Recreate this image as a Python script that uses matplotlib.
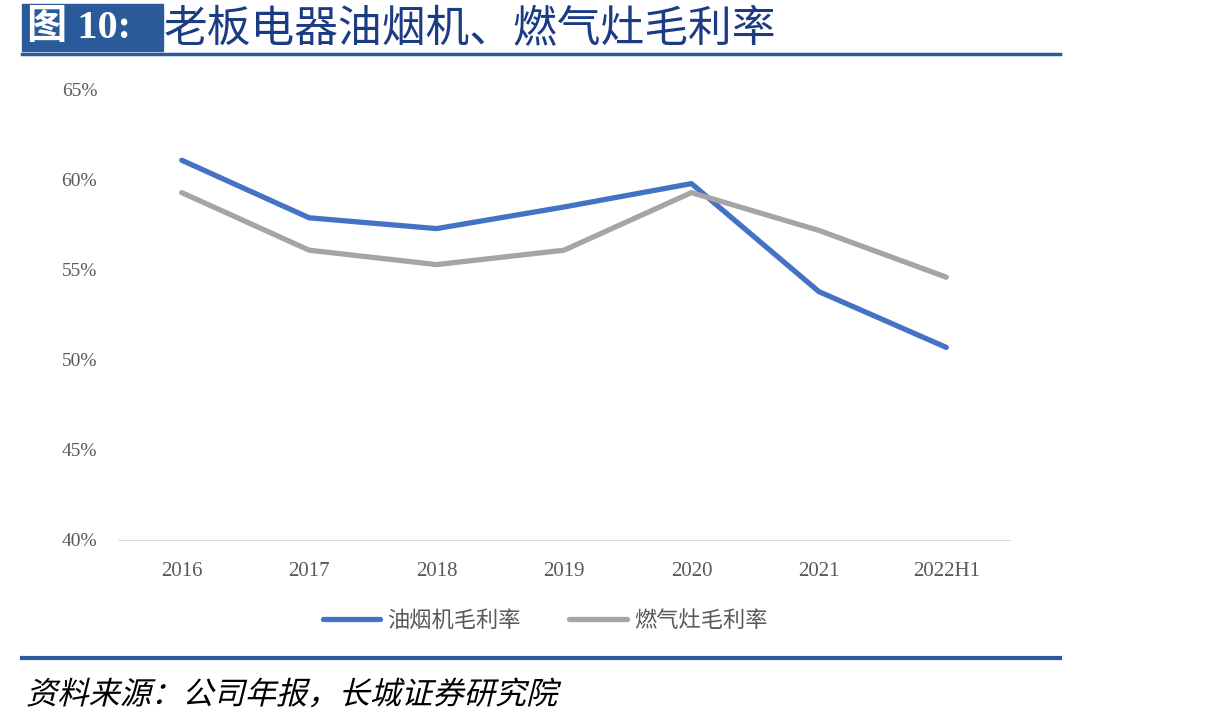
import matplotlib.pyplot as plt
import matplotlib.patches as patches
from matplotlib.lines import Line2D
from matplotlib.textpath import TextPath
from matplotlib.font_manager import FontProperties
from matplotlib.transforms import Affine2D

plt.rcParams['font.family'] = ['Noto Sans CJK SC', 'DejaVu Sans']

years = ['2016', '2017', '2018', '2019', '2020', '2021', '2022H1']
youyanji = [61.1, 57.9, 57.3, 58.5, 59.8, 53.8, 50.7]   # 油烟机毛利率 %
ranqizao = [59.3, 56.1, 55.3, 56.1, 59.3, 57.2, 54.6]   # 燃气灶毛利率 %
yticks = [40, 45, 50, 55, 60, 65]

W, H = 1214, 725
fig = plt.figure(figsize=(W / 100, H / 100), dpi=100)

# 标题
fig.patches.append(patches.Rectangle((22 / W, 1 - 51 / H), 141 / W, 47 / H,
                                     transform=fig.transFigure, color='#2B5A9A', zorder=1))
fig.text(27 / W, 1 - 29 / H, '图 10:', color='white', fontsize=29, fontweight='bold',
         family=['Liberation Serif', 'Noto Sans CJK SC'], va='center', ha='left')
fig.text(164 / W, 1 - 29 / H, '老板电器油烟机、燃气灶毛利率', color='#1B3C84', fontsize=31.5,
         va='center', ha='left', fontweight='medium')
fig.add_artist(Line2D([22 / W, 1060 / W], [1 - 54 / H, 1 - 54 / H], color='#2B5A9A', lw=2.5))
fig.add_artist(Line2D([22 / W, 1060 / W], [1 - 658 / H, 1 - 658 / H], color='#2B5A9A', lw=3))

# 资料来源（斜体，用倾斜的文字路径）
src = TextPath((0, 0), '资料来源：公司年报，长城证券研究院', size=22.5,
               prop=FontProperties(family='Noto Sans CJK SC'))
tr = Affine2D().skew_deg(14, 0).scale(1 / 72).translate(26 / 100, (H - 704) / 100) + fig.dpi_scale_trans
fig.patches.append(patches.PathPatch(src, transform=tr, color='black', lw=0))

ax = fig.add_axes([118 / W, 1 - 540 / H, 892 / W, 450 / H])
x = range(len(years))
ax.plot(x, youyanji, color='#4472C4', lw=3.8, solid_capstyle='round', label='油烟机毛利率')
ax.plot(x, ranqizao, color='#A5A5A5', lw=3.8, solid_capstyle='round', label='燃气灶毛利率')
ax.set_xlim(-0.5, len(years) - 0.5)
ax.set_ylim(40, 65)
ax.set_yticks(yticks)
ax.set_yticklabels([f'{v}%' for v in yticks], family=['Liberation Serif'], fontsize=14, color='#595959')
ax.set_xticks(list(x))
ax.set_xticklabels(years, family=['Liberation Serif'], fontsize=15, color='#595959')
for s in ['top', 'right', 'left']:
    ax.spines[s].set_visible(False)
ax.spines['bottom'].set_color('#D9D9D9')
ax.tick_params(length=0)
ax.tick_params(axis='x', pad=16)
ax.tick_params(axis='y', pad=15)

fig.legend(loc='center', bbox_to_anchor=(545 / W, 1 - 620 / H), ncol=2, frameon=False,
           fontsize=16, handlelength=2.6, columnspacing=2.2, handletextpad=0.3,
           labelcolor='#595959')

fig.savefig('out.png', dpi=100)
